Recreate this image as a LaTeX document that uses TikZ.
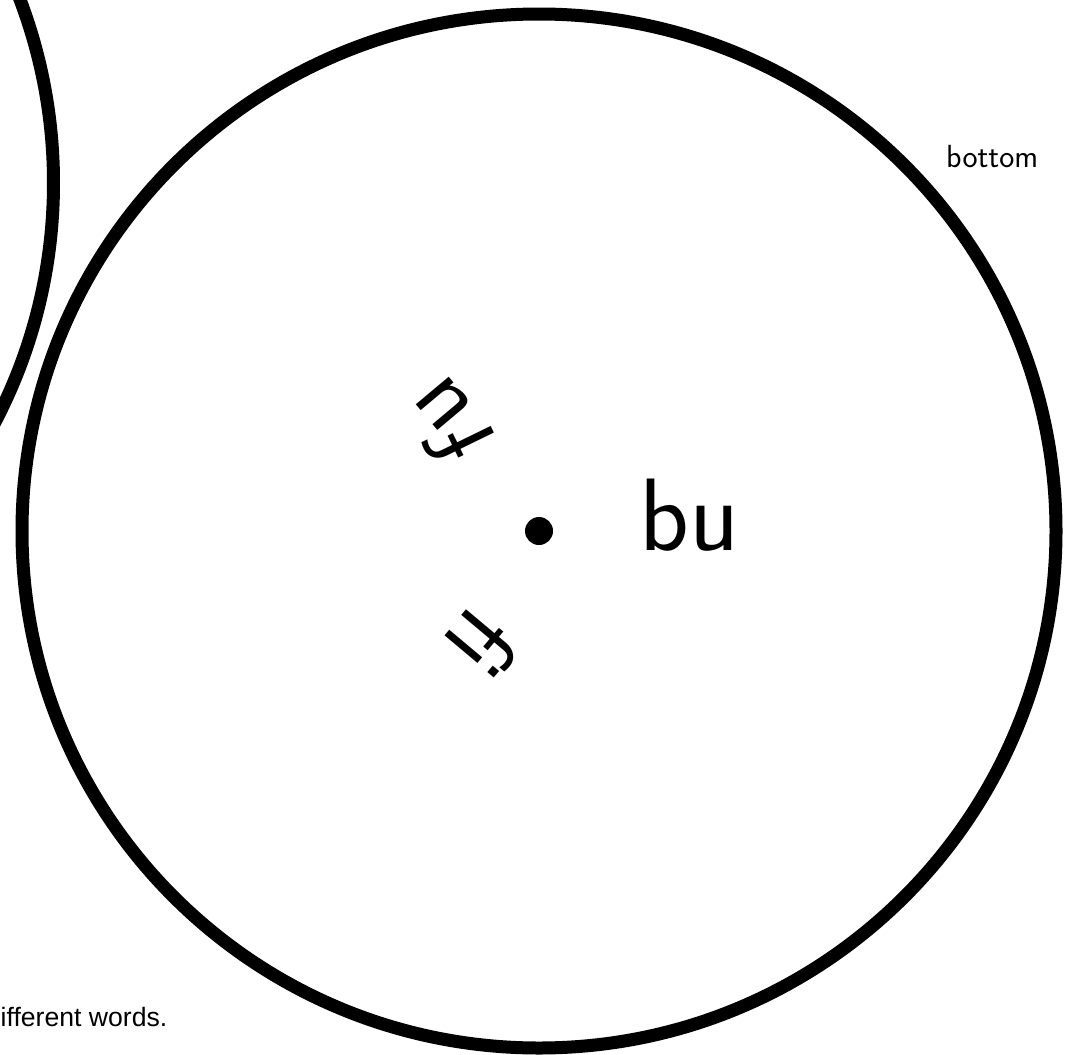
\documentclass[tikz,border=0pt]{standalone}
\usepackage{fontspec}
\newfontfamily\arialf{Liberation Sans}
\begin{document}
\begin{tikzpicture}[x=1pt,y=-1pt,
  ring/.style={draw=black,line width=13pt},
  glyph/.style={inner sep=0pt,font=\sffamily\fontsize{100}{104}\selectfont},
  biglabel/.style={inner sep=0pt,font=\sffamily\fontsize{103}{106}\selectfont},
  smalllabel/.style={inner sep=0pt,font=\sffamily\fontsize{32}{35}\selectfont},
  arialtext/.style={inner sep=0pt,font=\arialf\fontsize{26.6}{30}\selectfont}]
\useasboundingbox (0,0) rectangle (1077,1055);
\clip (0,0) rectangle (1077,1055);
\fill[white] (0,0) rectangle (1077,1055);
\draw[ring] (539,531) circle[radius=517pt];
\draw[ring] (-463.5,183) circle[radius=517pt];
\fill (539,531) circle[radius=14pt];
\node[biglabel, anchor=base west] (bu) at (639,550) {bu};
\node[smalllabel, anchor=base west] (bottom) at (946,167) {bottom};
\node[arialtext, anchor=base west] (words) at (0.5,1026) {ifferent words.};
\node[glyph, rotate=-130] (fi) at (483,645) {f\kern0pt i};
\node[glyph, rotate=116] (f2) at (461,444) {f};
\node[glyph, rotate=130] (u2) at (444,404) {u};
\end{tikzpicture}
\end{document}
